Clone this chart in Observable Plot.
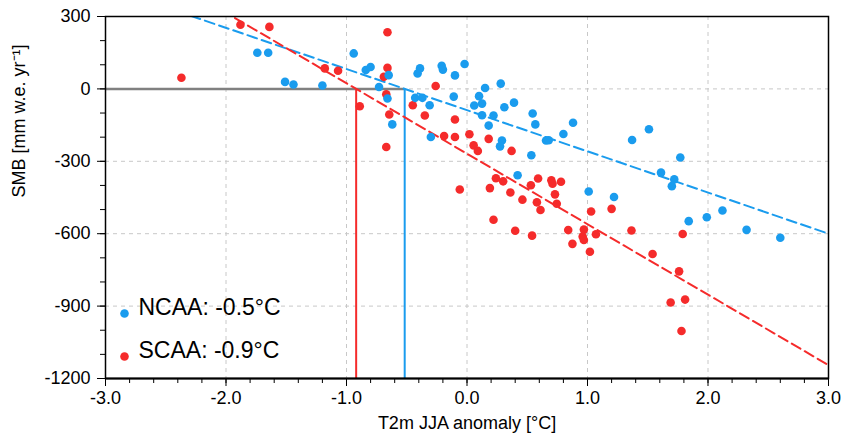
<!DOCTYPE html>
<html>
<head>
<meta charset="utf-8">
<script src="https://cdn.jsdelivr.net/npm/d3@7"></script>
<script src="https://cdn.jsdelivr.net/npm/@observablehq/plot@0.6"></script>
<style>
  html, body { margin: 0; padding: 0; background: #fff; }
  #chart { width: 845px; height: 441px; }
</style>
</head>
<body>
<div id="chart"></div>
<script>
// NCAA (blue) points: T2m JJA anomaly [°C], SMB [mm w.e. yr-1]
const ncaaT = [-1.74,-1.65,-1.51,-1.44,-1.20,-0.94,-0.84,-0.80,-0.65,-0.73,-0.66,-0.62,-0.41,-0.39,-0.21,-0.20,-0.10,-0.02,-0.43,-0.37,-0.31,-0.11,-0.30,0.06,0.10,0.15,0.125,0.28,0.31,0.125,0.22,0.18,0.29,0.39,0.545,0.567,0.88,0.80,0.656,0.678,0.274,0.534,0.42,1.01,1.22,1.37,1.51,1.77,1.61,1.72,1.70,1.84,1.99,2.12,2.32,2.60];
const ncaaSMB = [150,150,29,18,14,147,78,91,57,8,-40,-147,64,85,96,80,56,103,-37,-37,-68,-32,-199,-69,-30,4,-61,22,-76,-109,-110,-152,-214,-57,-102,-147,-140,-187,-214,-213,-238,-275,-358,-425,-448,-212,-167,-284,-347,-375,-403,-548,-532,-504,-584,-617];

// SCAA (red) points
const scaaT = [-2.37,-1.88,-1.64,-1.18,-1.07,-0.89,-0.66,-0.66,-0.69,-0.67,-0.645,-0.67,-0.26,-0.45,-0.35,-0.10,-0.19,-0.10,0.02,0.18,0.055,0.09,0.37,-0.06,0.19,0.24,0.30,0.36,0.53,0.59,0.46,0.58,0.61,0.70,0.71,0.78,0.73,0.745,0.22,0.40,0.54,1.03,1.20,0.84,0.97,0.96,0.97,0.875,1.07,1.02,1.365,1.79,1.54,1.76,1.69,1.81,1.78];
const scaaSMB = [46,266,257,85,75,-72,235,87,50,-22,-106,-241,12,-68,-110,-127,-195,-199,-188,-207,-234,-257,-257,-417,-411,-370,-383,-429,-399,-371,-459,-470,-502,-379,-393,-385,-437,-476,-542,-588,-608,-508,-497,-585,-583,-612,-626,-642,-602,-675,-587,-601,-684,-756,-885,-873,-1003];

// Regression fits (SMB = slope * T + intercept)
const regions = ["NCAA", "SCAA"];
const slopes = [-170.6, -292.0];
const intercepts = [-88.2, -268.6];
const colors = ["#1a9cee", "#f52b2b"];

// Axes
const xDomain = [-3, 3];
const yDomain = [-1200, 300];
const xMajor = [-3, -2, -1, 0, 1, 2, 3];
const yMajor = [-1200, -900, -600, -300, 0, 300];
const xGrid = [-2, -1, 0, 1, 2];
const yGrid = [-900, -600, -300, 0];
const xMinorStep = 0.2;
const yMinorStep = 100;

const xLabel = "T2m JJA anomaly [°C]";
const yLabel = "SMB [mm w.e. yr⁻¹]";

const font = "'Liberation Sans', Arial, Helvetica, sans-serif";

const ncaa = ncaaT.map((t, i) => ({t, smb: ncaaSMB[i]}));
const scaa = scaaT.map((t, i) => ({t, smb: scaaSMB[i]}));

const fits = regions.map((name, i) => ({
  name, slope: slopes[i], intercept: intercepts[i], color: colors[i],
  zero: -intercepts[i] / slopes[i]
}));
const fitLines = fits.flatMap(f => xDomain.map(x => ({name: f.name, color: f.color, x, y: f.slope * x + f.intercept})));

const xMinor = d3.range(Math.round((xDomain[1] - xDomain[0]) / xMinorStep) + 1).map(i => +(xDomain[0] + i * xMinorStep).toFixed(2));
const yMinor = d3.range(Math.round((yDomain[1] - yDomain[0]) / yMinorStep) + 1).map(i => yDomain[0] + i * yMinorStep);

const maxZero = d3.max(fits, f => f.zero);

const chart = Plot.plot({
  width: 845,
  height: 441,
  marginLeft: 105,
  marginRight: 17,
  marginTop: 16,
  marginBottom: 63,
  style: {fontFamily: font, fontSize: "18px", color: "black", background: "white"},
  x: {domain: xDomain},
  y: {domain: yDomain},
  marks: [
    Plot.gridX(xGrid, {stroke: "#c8c8c8", strokeOpacity: 1, strokeDasharray: "4,4"}),
    Plot.gridY(yGrid, {stroke: "#c8c8c8", strokeOpacity: 1, strokeDasharray: "4,4"}),
    Plot.ruleY([0], {x1: xDomain[0], x2: maxZero, stroke: "#808080", strokeWidth: 2.5}),
    Plot.ruleX(fits, {x: "zero", y1: yDomain[0], y2: 0, stroke: "color", strokeWidth: 2}),
    Plot.line(fitLines, {x: "x", y: "y", z: "name", stroke: "color", strokeWidth: 2, strokeDasharray: "10,5", clip: true}),
    Plot.dot(scaa, {x: "t", y: "smb", r: 4.3, fill: colors[1]}),
    Plot.dot(ncaa, {x: "t", y: "smb", r: 4.3, fill: colors[0]}),
    Plot.axisX(xMinor, {tickSize: 5, tickFormat: () => "", label: null, stroke: "black"}),
    Plot.axisX(xMajor, {tickSize: 8, tickPadding: 5, tickFormat: d => d.toFixed(1), label: null, stroke: "black", fontSize: 18}),
    Plot.axisY(yMinor, {tickSize: 5, tickFormat: () => "", label: null, stroke: "black"}),
    Plot.axisY(yMajor, {tickSize: 8, tickPadding: 7, tickFormat: d => String(d), label: null, stroke: "black", fontSize: 18}),
    Plot.frame({stroke: "black", strokeWidth: 1.5}),
    Plot.ruleY([yDomain[0]], {stroke: "black", strokeWidth: 2}),
    Plot.text([yLabel], {frameAnchor: "left", rotate: -90, dx: -86, fontSize: 18, fill: "black"}),
    Plot.text([xLabel], {frameAnchor: "bottom", dy: 50, fontSize: 18, fill: "black"}),
    Plot.dot([fits[0]], {frameAnchor: "bottom-left", dx: 19, dy: -65, r: 4.3, fill: "color"}),
    Plot.dot([fits[1]], {frameAnchor: "bottom-left", dx: 19, dy: -22, r: 4.3, fill: "color"}),
    Plot.text([fits[0]], {frameAnchor: "bottom-left", dx: 33, dy: -64, text: f => `${f.name}: ${f.zero.toFixed(1)}°C`, textAnchor: "start", fontSize: 23, fill: "black"}),
    Plot.text([fits[1]], {frameAnchor: "bottom-left", dx: 33, dy: -21, text: f => `${f.name}: ${f.zero.toFixed(1)}°C`, textAnchor: "start", fontSize: 23, fill: "black"})
  ]
});
document.getElementById("chart").appendChild(chart);
</script>
</body>
</html>
